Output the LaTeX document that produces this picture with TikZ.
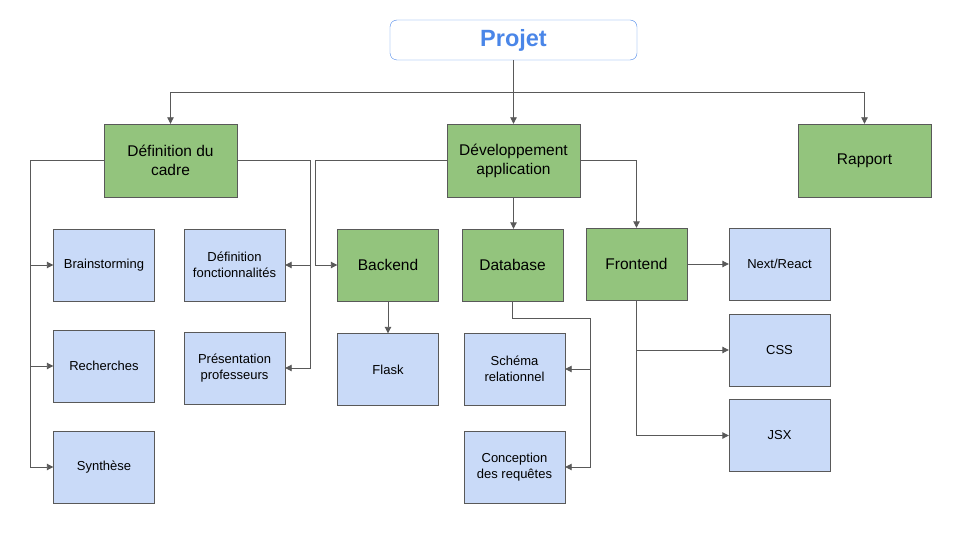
\documentclass[tikz,border=0pt]{standalone}
\usepackage{fontspec}
\setmainfont{Liberation Sans}
\usetikzlibrary{arrows.meta}
\definecolor{vert}{HTML}{93C47D}
\definecolor{bleu}{HTML}{C9DAF8}
\definecolor{trait}{HTML}{595959}
\definecolor{titre}{HTML}{4A86E8}
\begin{document}
\begin{tikzpicture}[x=1pt,y=-1pt,
    phase/.style={draw=trait, fill=vert, minimum width=133pt, minimum height=73pt, align=center, inner sep=0pt, font=\fontsize{15.5}{19}\selectfont},
    sous/.style={draw=trait, fill=vert, minimum width=101pt, minimum height=72pt, inner sep=0pt, font=\fontsize{15.5}{19}\selectfont},
    tache/.style={draw=trait, fill=bleu, minimum width=101pt, minimum height=72pt, align=center, inner sep=0pt, font=\fontsize{13}{16}\selectfont},
    fleche/.style={draw=trait, line width=0.9pt, -{Triangle[length=6.5pt,width=6.5pt]}},
    lien/.style={draw=trait, line width=0.9pt}]
             \useasboundingbox (0,0) rectangle (960,540);
             \node[draw=titre, rounded corners=7pt, minimum width=247pt, minimum height=40pt, text=titre, font=\fontsize{23.5}{28}\selectfont\bfseries] (projet) at (513.5,40) {\raisebox{-2pt}{Projet}};

             \node[phase] (cadre) at (170.5,160.5) {Définition du\\cadre};
             \node[phase] (dev) at (513.5,160.5) {Développement\\application};
             \node[phase] (rapport) at (864.5,160.5) {\raisebox{-2pt}{Rapport}};

             \node[tache] (brain) at (104,265) {Brainstorming};
             \node[tache] (rech) at (104,366) {Recherches};
             \node[tache] (synth) at (104,467) {Synthèse};
             \node[tache] (fonct) at (234.5,265) {Définition\\fonctionnalités};
             \node[tache] (prof) at (234.5,368) {Présentation\\professeurs};

             \node[sous] (back) at (388,265) {Backend};
             \node[tache] (flask) at (388,369.5) {Flask};
             \node[sous] (db) at (512.5,265) {Database};
             \node[tache] (schema) at (514.5,369) {Schéma\\relationnel};
             \node[tache] (requetes) at (514.5,467) {Conception\\des requêtes};
             \node[sous] (front) at (636.5,264) {Frontend};
             \node[tache] (next) at (779.5,264) {Next/React};
             \node[tache] (css) at (779.5,350) {CSS};
             \node[tache] (jsx) at (779.5,435.5) {JSX};

             \coordinate (bus) at (513.5,92);
             \draw[lien] (projet.south) -- (bus);
             \draw[fleche] (bus) -| (cadre.north);
             \draw[fleche] (bus) -- (dev.north);
             \draw[fleche] (bus) -| (rapport.north);

             \coordinate (cadreG) at (30,160.5);
             \draw[fleche] (cadre.west) -- (cadreG) |- (brain.west);
             \draw[fleche] (cadre.west) -- (cadreG) |- (rech.west);
             \draw[fleche] (cadre.west) -- (cadreG) |- (synth.west);
             \coordinate (cadreD) at (310,160.5);
             \draw[fleche] (cadre.east) -- (cadreD) |- (fonct.east);
             \draw[fleche] (cadre.east) -- (cadreD) |- (prof.east);

             \coordinate (devG) at (315,160.5);
             \draw[fleche] (dev.west) -- (devG) |- (back.west);
             \draw[fleche] (dev.south) -- (dev.south |- db.north);
             \draw[fleche] (dev.east) -| (front.north);
             \draw[fleche] (back) -- (flask);

             \coordinate (dbD) at (590,318);
             \draw[fleche] (db.south) |- (dbD) |- (schema.east);
             \draw[fleche] (db.south) |- (dbD) |- (requetes.east);

             \draw[fleche] (front.east) -- (next.west);
             \draw[fleche] (front.south) |- (css.west);
             \draw[fleche] (front.south) |- (jsx.west);

         \end{tikzpicture}
\end{document}
